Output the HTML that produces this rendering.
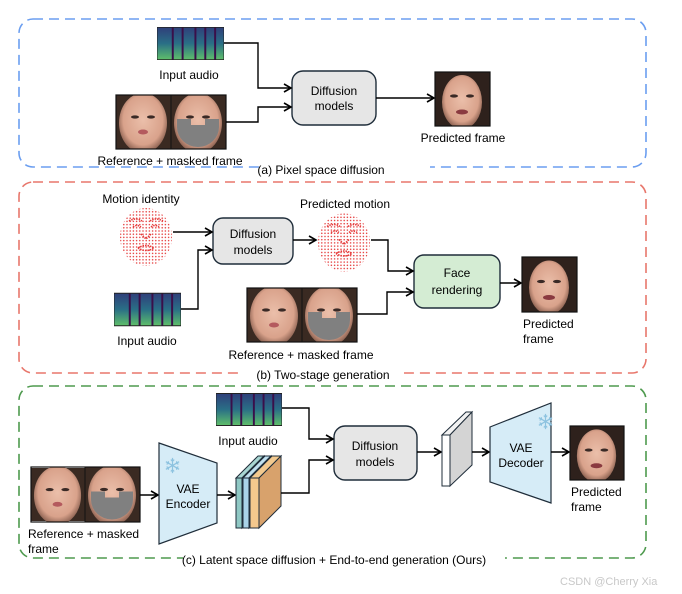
<!DOCTYPE html>
<html><head><meta charset="utf-8"><style>
html,body{margin:0;padding:0;background:#fff;}
svg{display:block;font-family:"Liberation Sans",Arial,sans-serif;}
</style></head><body>
<svg width="682" height="594" viewBox="0 0 682 594" xmlns="http://www.w3.org/2000/svg">
<defs>
<marker id="ar" markerWidth="10" markerHeight="10" refX="8" refY="5" orient="auto" markerUnits="userSpaceOnUse">
<path d="M1,1 L8,5 L1,9" fill="none" stroke="#000" stroke-width="1.6"/>
</marker>
<linearGradient id="spec" x1="0" y1="0" x2="0" y2="1">
<stop offset="0" stop-color="#2f3f7a"/><stop offset="0.5" stop-color="#2a6f86"/><stop offset="1" stop-color="#5fbf6a"/>
</linearGradient>
<symbol id="audio" viewBox="0 0 68 33">
<rect width="68" height="33" fill="url(#spec)"/>
<rect x="15" y="0" width="2" height="33" fill="#3a0f4a"/>
<rect x="25" y="0" width="2" height="33" fill="#3a0f4a"/>
<rect x="38" y="0" width="2" height="33" fill="#3a0f4a"/>
<rect x="48" y="0" width="2" height="33" fill="#3a0f4a"/>
<rect x="58" y="0" width="2" height="33" fill="#3a0f4a"/>
<rect width="68" height="33" fill="none" stroke="#222" stroke-width="1"/>
</symbol>
<radialGradient id="skin" cx="0.5" cy="0.45" r="0.55">
<stop offset="0" stop-color="#ebbfaa"/><stop offset="0.75" stop-color="#d9a28b"/><stop offset="1" stop-color="#8a6050"/>
</radialGradient>
<symbol id="face" viewBox="0 0 55 54">
<rect width="55" height="54" fill="#3a2a22"/>
<ellipse cx="27" cy="28" rx="24" ry="30" fill="url(#skin)"/>
<ellipse cx="19" cy="22" rx="4" ry="1.6" fill="#3a2a26"/>
<ellipse cx="35" cy="22" rx="4" ry="1.6" fill="#3a2a26"/>
<ellipse cx="27" cy="37" rx="5" ry="2.5" fill="#b45a5e"/>
</symbol>
<symbol id="mface" viewBox="0 0 55 54">
<use href="#face" width="55" height="54"/>
<path d="M6,24 H20 V30 H34 V24 H48 V32 A21,20 0 0 1 6,32 Z" fill="#808080"/>
</symbol>
<symbol id="pface" viewBox="0 0 55 54">
<rect width="55" height="54" fill="#2e211c"/>
<ellipse cx="27" cy="30" rx="20" ry="27" fill="url(#skin)"/>
<ellipse cx="19" cy="24" rx="4" ry="1.6" fill="#3a2a26"/>
<ellipse cx="35" cy="24" rx="4" ry="1.6" fill="#3a2a26"/>
<ellipse cx="27" cy="40" rx="6" ry="2.5" fill="#8a3a40"/>
</symbol>
<pattern id="dots" width="3.2" height="3.2" patternUnits="userSpaceOnUse">
<circle cx="1.6" cy="1.6" r="0.75" fill="#e53b3b"/>
</pattern>
<symbol id="mesh" viewBox="0 0 54 60">
<ellipse cx="27" cy="30" rx="26" ry="29" fill="url(#dots)"/>
<path d="M10,14 Q17,10 23,14 M31,14 Q37,10 44,14 M14,20 Q18,17 22,20 M32,20 Q36,17 40,20 M22,27 L27,32 L32,27 M19,41 Q27,36 35,41 Q27,46 19,41" fill="none" stroke="#e53b3b" stroke-width="1.6" stroke-dasharray="1.5 1"/>
</symbol>
<symbol id="snow" viewBox="-10 -10 20 20">
<g stroke="#8ec3e0" stroke-width="1.4" fill="none">
<path d="M0,-9 V9 M-7.8,-4.5 L7.8,4.5 M-7.8,4.5 L7.8,-4.5"/>
<path d="M-2,-7 L0,-5 L2,-7 M-2,7 L0,5 L2,7 M-7,-1.5 L-4.5,-2.5 L-5,-5 M7,1.5 L4.5,2.5 L5,5 M-7,1.5 L-4.5,2.5 L-5,5 M7,-1.5 L4.5,-2.5 L5,-5"/>
</g>
</symbol>
</defs>

<!-- (a) -->
<rect x="19" y="19" width="627" height="148" rx="14" fill="none" stroke="#6b9ef0" stroke-width="1.6" stroke-dasharray="10 6"/>
<rect x="262" y="162" width="168" height="12" fill="#fff"/>
<text x="321" y="174" font-size="12" text-anchor="middle">(a) Pixel space diffusion</text>
<use href="#audio" x="157" y="27" width="67" height="33"/>
<text x="189" y="79" font-size="12" text-anchor="middle">Input audio</text>
<use href="#face" x="116" y="95" width="55" height="54"/>
<use href="#mface" x="171" y="95" width="55" height="54"/>
<rect x="116" y="95" width="110" height="54" fill="none" stroke="#111" stroke-width="1.2"/>
<line x1="171" y1="95" x2="171" y2="149" stroke="#111" stroke-width="1"/>
<text x="170" y="165" font-size="12" text-anchor="middle">Reference + masked frame</text>
<rect x="292" y="71" width="84" height="54" rx="11" fill="#e6e6e6" stroke="#1f2d3a" stroke-width="1.4"/>
<text x="334" y="95" font-size="12" text-anchor="middle">Diffusion</text>
<text x="334" y="110" font-size="12" text-anchor="middle">models</text>
<polyline points="224,43 258,43 258,88 291,88" fill="none" stroke="#000" stroke-width="1.4" marker-end="url(#ar)"/>
<polyline points="226,122 258,122 258,107 291,107" fill="none" stroke="#000" stroke-width="1.4" marker-end="url(#ar)"/>
<line x1="376" y1="98" x2="434" y2="98" stroke="#000" stroke-width="1.4" marker-end="url(#ar)"/>
<use href="#pface" x="435" y="72" width="55" height="54"/>
<rect x="435" y="72" width="55" height="54" fill="none" stroke="#111" stroke-width="1.2"/>
<text x="463" y="142" font-size="12" text-anchor="middle">Predicted frame</text>

<!-- (b) -->
<rect x="19" y="182" width="627" height="191" rx="14" fill="none" stroke="#e8776c" stroke-width="1.6" stroke-dasharray="10 6"/>
<rect x="240" y="367" width="164" height="12" fill="#fff"/>
<text x="323" y="379" font-size="12" text-anchor="middle">(b) Two-stage generation</text>
<text x="141" y="203" font-size="12" text-anchor="middle">Motion identity</text>
<use href="#mesh" x="119" y="207" width="54" height="60"/>
<rect x="213" y="218" width="80" height="46" rx="10" fill="#e6e6e6" stroke="#1f2d3a" stroke-width="1.4"/>
<text x="253" y="238" font-size="12" text-anchor="middle">Diffusion</text>
<text x="253" y="254" font-size="12" text-anchor="middle">models</text>
<line x1="173" y1="232" x2="212" y2="232" stroke="#000" stroke-width="1.4" marker-end="url(#ar)"/>
<use href="#audio" x="114" y="292" width="67" height="35"/>
<text x="147" y="345" font-size="12" text-anchor="middle">Input audio</text>
<polyline points="181,309 198,309 198,250 212,250" fill="none" stroke="#000" stroke-width="1.4" marker-end="url(#ar)"/>
<text x="345" y="208" font-size="12" text-anchor="middle">Predicted motion</text>
<use href="#mesh" x="317" y="212" width="54" height="61"/>
<line x1="293" y1="240" x2="316" y2="240" stroke="#000" stroke-width="1.4" marker-end="url(#ar)"/>
<rect x="414" y="255" width="86" height="53" rx="10" fill="#d4ecd3" stroke="#1f2d3a" stroke-width="1.4"/>
<text x="457" y="277" font-size="12" text-anchor="middle">Face</text>
<text x="457" y="294" font-size="12" text-anchor="middle">rendering</text>
<polyline points="371,240 388,240 388,271 413,271" fill="none" stroke="#000" stroke-width="1.4" marker-end="url(#ar)"/>
<use href="#face" x="247" y="288" width="55" height="54"/>
<use href="#mface" x="302" y="288" width="55" height="54"/>
<rect x="247" y="288" width="110" height="54" fill="none" stroke="#111" stroke-width="1.2"/>
<line x1="302" y1="288" x2="302" y2="342" stroke="#111" stroke-width="1"/>
<text x="301" y="359" font-size="12" text-anchor="middle">Reference + masked frame</text>
<polyline points="357,314 387,314 387,292 413,292" fill="none" stroke="#000" stroke-width="1.4" marker-end="url(#ar)"/>
<line x1="500" y1="283" x2="521" y2="283" stroke="#000" stroke-width="1.4" marker-end="url(#ar)"/>
<use href="#pface" x="522" y="257" width="55" height="55"/>
<rect x="522" y="257" width="55" height="55" fill="none" stroke="#111" stroke-width="1.2"/>
<text x="523" y="328" font-size="12">Predicted</text>
<text x="523" y="343" font-size="12">frame</text>

<!-- (c) -->
<rect x="19" y="386" width="627" height="172" rx="14" fill="none" stroke="#4e9a4e" stroke-width="1.6" stroke-dasharray="10 6"/>
<rect x="183" y="552" width="322" height="14" fill="#fff"/>
<text x="334" y="564" font-size="12" text-anchor="middle">(c) Latent space diffusion + End-to-end generation (Ours)</text>
<use href="#audio" x="216" y="393" width="66" height="33"/>
<text x="248" y="445" font-size="12" text-anchor="middle">Input audio</text>
<use href="#face" x="31" y="467" width="54" height="55"/>
<use href="#mface" x="85" y="467" width="55" height="55"/>
<rect x="31" y="467" width="109" height="55" fill="none" stroke="#111" stroke-width="1.2"/>
<line x1="85" y1="467" x2="85" y2="522" stroke="#111" stroke-width="1"/>
<text x="28" y="538" font-size="12">Reference + masked</text>
<text x="28" y="553" font-size="12">frame</text>
<line x1="140" y1="495" x2="158" y2="495" stroke="#000" stroke-width="1.4" marker-end="url(#ar)"/>
<polygon points="159,443 217,463 217,523 159,544" fill="#d6ecf7" stroke="#1f2d3a" stroke-width="1.2"/>
<use href="#snow" x="164" y="457" width="17" height="17"/>
<text x="188" y="493" font-size="12" text-anchor="middle">VAE</text>
<text x="188" y="508" font-size="12" text-anchor="middle">Encoder</text>
<line x1="217" y1="495" x2="235" y2="495" stroke="#000" stroke-width="1.4" marker-end="url(#ar)"/>
<!-- stack -->
<polygon points="236,478 258,456 264,456 242,478" fill="#a8d6d2" stroke="#1f2d3a" stroke-width="1"/>
<polygon points="242,478 264,456 264,506 242,528" fill="#8fc8c4" stroke="#1f2d3a" stroke-width="1"/>
<rect x="236" y="478" width="6" height="50" fill="#8fc8c4" stroke="#1f2d3a" stroke-width="1"/>
<polygon points="243,478 265,456 271,456 249,478" fill="#bfe0ef" stroke="#1f2d3a" stroke-width="1"/>
<polygon points="249,478 271,456 271,506 249,528" fill="#a9d3e8" stroke="#1f2d3a" stroke-width="1"/>
<rect x="243" y="478" width="6" height="50" fill="#a9d3e8" stroke="#1f2d3a" stroke-width="1"/>
<polygon points="250,478 272,456 281,456 259,478" fill="#f2c98f" stroke="#1f2d3a" stroke-width="1"/>
<polygon points="259,478 281,456 281,506 259,528" fill="#d8a26c" stroke="#1f2d3a" stroke-width="1"/>
<rect x="250" y="478" width="9" height="50" fill="#f4c88d" stroke="#1f2d3a" stroke-width="1"/>
<rect x="334" y="426" width="83" height="54" rx="11" fill="#e6e6e6" stroke="#1f2d3a" stroke-width="1.4"/>
<text x="375" y="450" font-size="12" text-anchor="middle">Diffusion</text>
<text x="375" y="466" font-size="12" text-anchor="middle">models</text>
<polyline points="282,408 309,408 309,439 333,439" fill="none" stroke="#000" stroke-width="1.4" marker-end="url(#ar)"/>
<polyline points="281,493 309,493 309,460 333,460" fill="none" stroke="#000" stroke-width="1.4" marker-end="url(#ar)"/>
<line x1="417" y1="452" x2="441" y2="452" stroke="#000" stroke-width="1.4" marker-end="url(#ar)"/>
<!-- latent -->
<polygon points="442,435 466,412 472,412 450,435" fill="#f2f2f2" stroke="#1f2d3a" stroke-width="1"/>
<polygon points="450,435 472,412 472,465 450,486" fill="#d4d4d4" stroke="#1f2d3a" stroke-width="1"/>
<rect x="442" y="435" width="8" height="51" fill="#fff" stroke="#1f2d3a" stroke-width="1"/>
<line x1="472" y1="452" x2="489" y2="452" stroke="#000" stroke-width="1.4" marker-end="url(#ar)"/>
<polygon points="490,427 551,403 551,503 490,482" fill="#d6ecf7" stroke="#1f2d3a" stroke-width="1.2"/>
<use href="#snow" x="537" y="413" width="17" height="17"/>
<text x="521" y="452" font-size="12" text-anchor="middle">VAE</text>
<text x="521" y="467" font-size="12" text-anchor="middle">Decoder</text>
<line x1="551" y1="452" x2="569" y2="452" stroke="#000" stroke-width="1.4" marker-end="url(#ar)"/>
<use href="#pface" x="570" y="426" width="54" height="54"/>
<rect x="570" y="426" width="54" height="54" fill="none" stroke="#111" stroke-width="1.2"/>
<text x="571" y="496" font-size="12">Predicted</text>
<text x="571" y="511" font-size="12">frame</text>

<text x="560" y="585" font-size="11" fill="#c8c8c8">CSDN @Cherry Xia</text>
</svg>
</body></html>
